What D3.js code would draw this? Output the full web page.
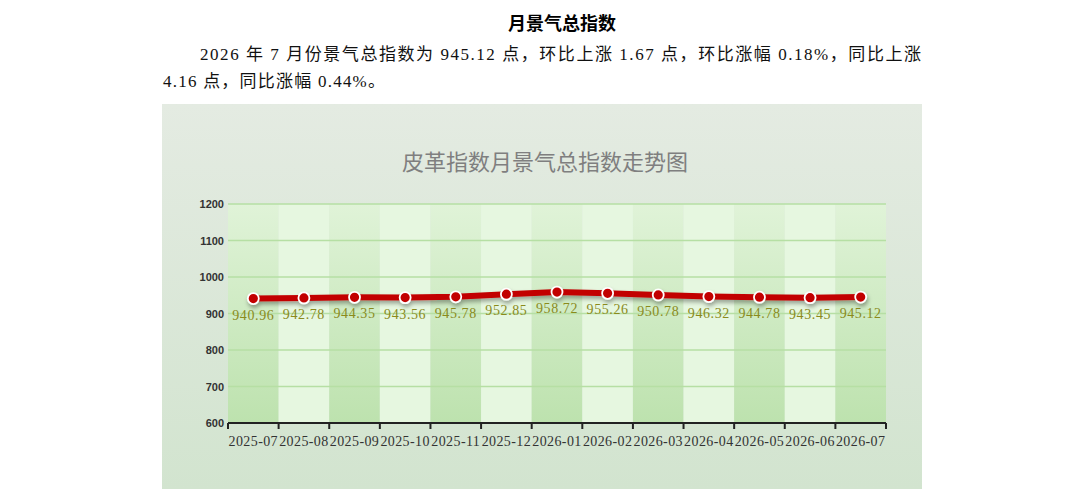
<!DOCTYPE html>
<html>
<head>
<meta charset="utf-8">
<script src="https://cdn.jsdelivr.net/npm/d3@7"></script>
<style>
  body { margin: 0; background: #fff; }
  svg { display: block; }
</style>
</head>
<body>
<svg id="canvas" width="1084" height="489"></svg>
<script>
const months = ["2025-07", "2025-08", "2025-09", "2025-10", "2025-11", "2025-12", "2026-01",
                "2026-02", "2026-03", "2026-04", "2026-05", "2026-06", "2026-07"];
const values = [940.96, 942.78, 944.35, 943.56, 945.78, 952.85, 958.72,
                955.26, 950.78, 946.32, 944.78, 943.45, 945.12];
const yTicks = [600, 700, 800, 900, 1000, 1100, 1200];

const headTitle = "月景气总指数";
const paraLines = ["2026 年 7 月份景气总指数为 945.12 点，环比上涨 1.67 点，环比涨幅 0.18%，同比上涨",
                   "4.16 点，同比涨幅 0.44%。"];
const chartTitle = "皮革指数月景气总指数走势图";

const svg = d3.select("#canvas");
const serif = "'Liberation Serif', 'DejaVu Serif', 'Noto Sans CJK SC', serif";
const sans = "'Liberation Sans', Arial, sans-serif";

// header + paragraph
svg.append("text")
    .attr("x", 562).attr("y", 30)
    .attr("text-anchor", "middle")
    .attr("font-family", "'Noto Sans CJK SC', sans-serif")
    .attr("font-weight", "bold").attr("font-size", 18)
    .attr("fill", "#000")
    .text(headTitle);

svg.append("text")
    .attr("x", 200).attr("y", 60)
    .attr("font-family", serif).attr("font-size", 17)
    .attr("textLength", 721).attr("lengthAdjust", "spacing")
    .attr("fill", "#111")
    .text(paraLines[0]);

svg.append("text")
    .attr("x", 163).attr("y", 87)
    .attr("font-family", serif).attr("font-size", 17)
    .attr("textLength", 222).attr("lengthAdjust", "spacing")
    .attr("fill", "#111")
    .text(paraLines[1]);

// chart panel
const defs = svg.append("defs");

const bgGrad = defs.append("linearGradient").attr("id", "bgGrad")
    .attr("x1", 0).attr("y1", 0).attr("x2", 0).attr("y2", 1);
bgGrad.append("stop").attr("offset", "0%").attr("stop-color", "#e4ebe2");
bgGrad.append("stop").attr("offset", "100%").attr("stop-color", "#d2e4cf");

const darkGrad = defs.append("linearGradient").attr("id", "darkGrad")
    .attr("x1", 0).attr("y1", 0).attr("x2", 0).attr("y2", 1);
darkGrad.append("stop").attr("offset", "0%").attr("stop-color", "#e0f3d8");
darkGrad.append("stop").attr("offset", "100%").attr("stop-color", "#bde2ae");

const shadow = defs.append("filter").attr("id", "shadow")
    .attr("x", "-5%").attr("y", "-50%").attr("width", "110%").attr("height", "200%");
shadow.append("feDropShadow")
    .attr("dx", 1).attr("dy", 3).attr("stdDeviation", 2)
    .attr("flood-color", "#000").attr("flood-opacity", 0.35);

svg.append("rect")
    .attr("x", 162).attr("y", 104).attr("width", 760).attr("height", 385)
    .attr("fill", "url(#bgGrad)");

svg.append("text")
    .attr("x", 545).attr("y", 170)
    .attr("text-anchor", "middle")
    .attr("font-family", "'Noto Sans CJK SC', sans-serif")
    .attr("font-size", 22).attr("fill", "#7f7f7f")
    .text(chartTitle);

const plotLeft = 228, plotRight = 886, plotTop = 204, plotBottom = 423;

const x = d3.scaleBand().domain(months).range([plotLeft, plotRight]);
const y = d3.scaleLinear().domain([600, 1200]).range([plotBottom, plotTop]);

// alternating bands
svg.append("g").selectAll("rect")
    .data(months)
    .join("rect")
    .attr("x", d => x(d))
    .attr("y", plotTop)
    .attr("width", x.bandwidth())
    .attr("height", plotBottom - plotTop)
    .attr("fill", (d, i) => i % 2 === 0 ? "url(#darkGrad)" : "#e6f7e0");

// grid lines
svg.append("g").selectAll("line")
    .data(yTicks.filter(t => t > 600))
    .join("line")
    .attr("x1", plotLeft).attr("x2", plotRight)
    .attr("y1", d => y(d)).attr("y2", d => y(d))
    .attr("stroke", "#b6dfa4").attr("stroke-width", 1.5);

// y axis labels
const yAxis = svg.append("g")
    .attr("transform", `translate(${plotLeft},0)`)
    .call(d3.axisLeft(y).tickValues(yTicks).tickFormat(d3.format("d")).tickSize(0).tickPadding(4));
yAxis.select(".domain").remove();
yAxis.selectAll("text")
    .attr("font-family", sans).attr("font-size", 11)
    .attr("font-weight", "bold").attr("fill", "#333");

// x axis
const tickPos = months.map(m => x(m)).concat([plotRight]);
const xg = svg.append("g");
xg.append("line")
    .attr("x1", plotLeft).attr("x2", plotRight)
    .attr("y1", plotBottom).attr("y2", plotBottom)
    .attr("stroke", "#222").attr("stroke-width", 2);
xg.selectAll(".tk")
    .data(tickPos)
    .join("line")
    .attr("class", "tk")
    .attr("x1", d => d).attr("x2", d => d)
    .attr("y1", plotBottom).attr("y2", plotBottom + 6)
    .attr("stroke", "#222").attr("stroke-width", 2);
xg.selectAll(".lbl")
    .data(months)
    .join("text")
    .attr("class", "lbl")
    .attr("x", d => x(d) + x.bandwidth() / 2)
    .attr("y", 446)
    .attr("text-anchor", "middle")
    .attr("font-family", serif).attr("font-size", 14)
    .attr("letter-spacing", 0.4)
    .attr("fill", "#333")
    .text(d => d);

// line + markers
const pts = months.map((m, i) => ({ m, v: values[i] }));
const line = d3.line()
    .x(d => x(d.m) + x.bandwidth() / 2)
    .y(d => y(d.v));

const series = svg.append("g").attr("filter", "url(#shadow)");
series.append("path")
    .datum(pts)
    .attr("d", line)
    .attr("fill", "none")
    .attr("stroke", "#c20000")
    .attr("stroke-width", 6)
    .attr("stroke-linejoin", "round");

series.selectAll("circle")
    .data(pts)
    .join("circle")
    .attr("cx", d => x(d.m) + x.bandwidth() / 2)
    .attr("cy", d => y(d.v))
    .attr("r", 5.5)
    .attr("fill", "#c20000")
    .attr("stroke", "#fff")
    .attr("stroke-width", 1.8);

svg.append("g").selectAll("text")
    .data(pts)
    .join("text")
    .attr("x", d => x(d.m) + x.bandwidth() / 2)
    .attr("y", d => y(d.v) + 21)
    .attr("text-anchor", "middle")
    .attr("font-family", serif).attr("font-size", 14)
    .attr("letter-spacing", 0.6)
    .attr("fill", "#8a8a1c")
    .text(d => d.v.toFixed(2));
</script>
</body>
</html>
